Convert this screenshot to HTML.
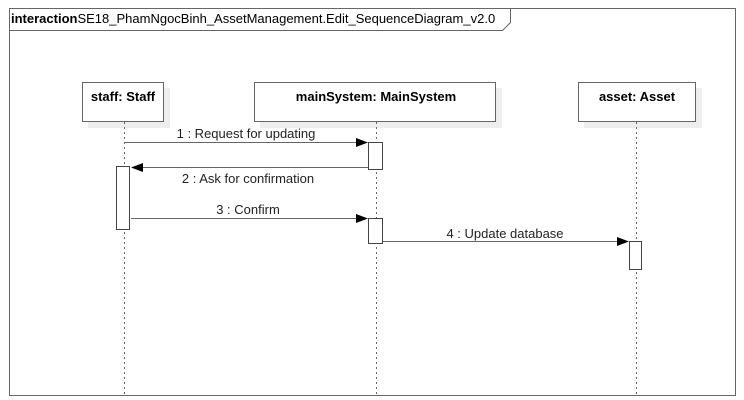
<!DOCTYPE html>
<html><head><style>body{margin:0;background:#fff}svg{display:block}</style></head><body>
<svg width="744" height="400" xmlns="http://www.w3.org/2000/svg" font-family="Liberation Sans, sans-serif" font-size="13">
<rect x="0" y="0" width="744" height="400" fill="#fff"/>
<rect x="9.5" y="8.5" width="726" height="387" fill="none" stroke="#666"/>
<path d="M9.5 30.5 H502.5 L510.5 22.5 V8.5" fill="none" stroke="#666"/>
<text x="11" y="23" fill="#000"><tspan font-weight="bold">interaction</tspan>SE18_PhamNgocBinh_AssetManagement.Edit_SequenceDiagram_v2.0</text>
<g fill="#eee"><rect x="88" y="88" width="82" height="40"/><rect x="260" y="88" width="242" height="40"/><rect x="584" y="88" width="118" height="40"/></g>
<g fill="#fff" stroke="#666"><rect x="82.5" y="82.5" width="81" height="39"/><rect x="254.5" y="82.5" width="241" height="39"/><rect x="578.5" y="82.5" width="117" height="39"/></g>
<g font-weight="bold" text-anchor="middle"><text x="123" y="101">staff: Staff</text><text x="376" y="101">mainSystem: MainSystem</text><text x="637" y="101">asset: Asset</text></g>
<g stroke="#666" stroke-dasharray="2,3"><line x1="124.5" y1="122" x2="124.5" y2="395"/><line x1="376.5" y1="122" x2="376.5" y2="395"/><line x1="636.5" y1="122" x2="636.5" y2="395"/></g>
<g stroke="#666"><line x1="124" y1="142.5" x2="360" y2="142.5"/><line x1="368" y1="167.5" x2="138" y2="167.5"/><line x1="131" y1="218.5" x2="360" y2="218.5"/><line x1="383" y1="241.5" x2="620" y2="241.5"/></g>
<g fill="#000"><path d="M368 142.5 L356 138 L356 147Z"/><path d="M131 167.5 L143 163 L143 172Z"/><path d="M368 218.5 L356 214 L356 223Z"/><path d="M629 241.5 L617 237 L617 246Z"/></g>
<g fill="#fff" stroke="#444"><rect x="368.5" y="142.5" width="14" height="27"/><rect x="116.5" y="166.5" width="13" height="63"/><rect x="368.5" y="218.5" width="14" height="25"/><rect x="629.5" y="241.5" width="12" height="28"/></g>
<g fill="#222" text-anchor="middle"><text x="246" y="138">1 : Request for updating</text><text x="248" y="183">2 : Ask for confirmation</text><text x="248" y="214">3 : Confirm</text><text x="505" y="238">4 : Update database</text></g>
</svg>
</body></html>
